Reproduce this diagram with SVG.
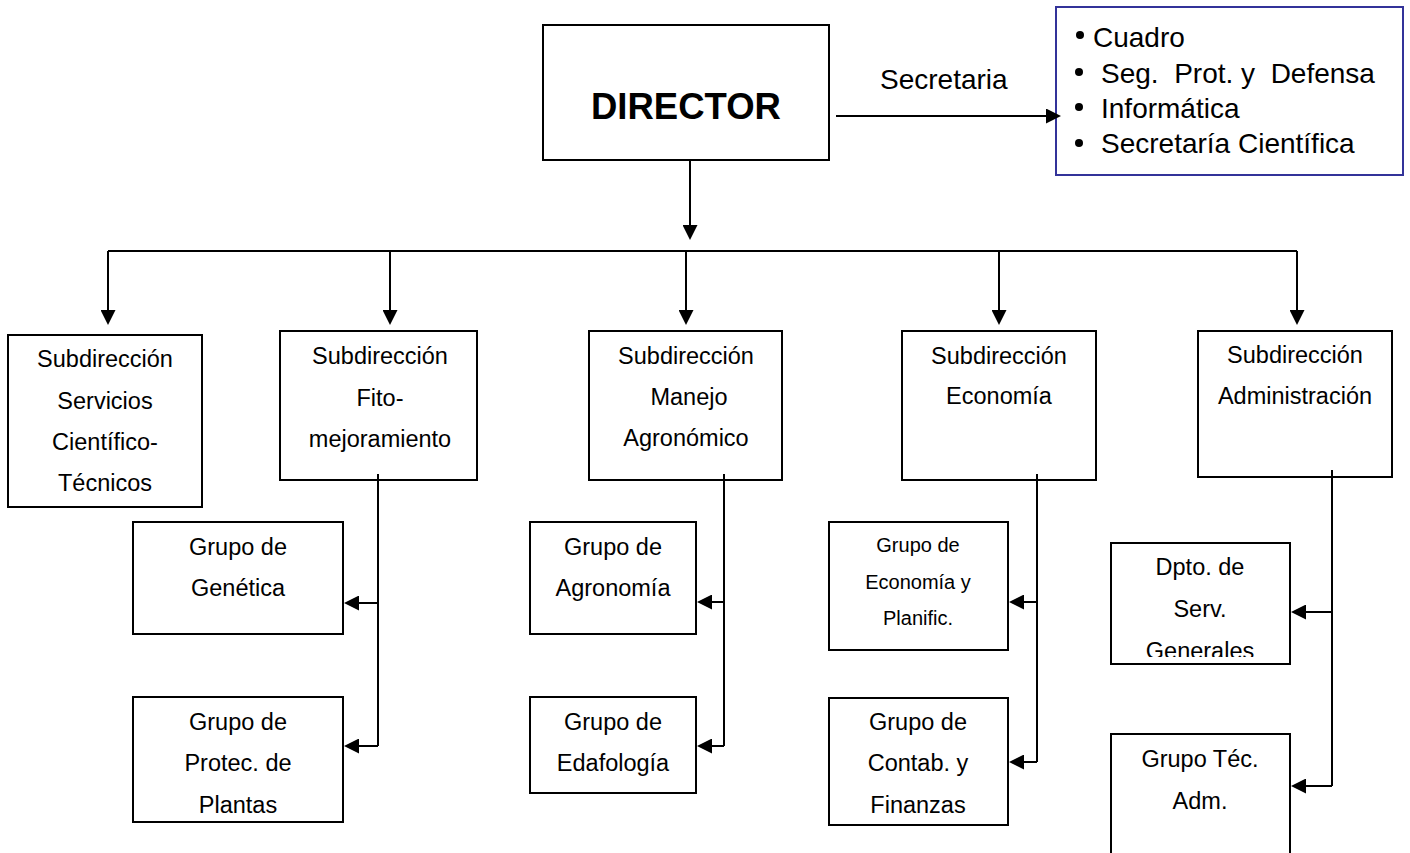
<svg xmlns="http://www.w3.org/2000/svg" width="1410" height="853" viewBox="0 0 1410 853">
<style>
.box{fill:#fff;stroke:#000;stroke-width:2}
.blue{fill:#fff;stroke:#333399;stroke-width:2}
.t{font-family:"Liberation Sans",Arial,sans-serif;font-size:23.5px;fill:#000;text-anchor:middle}
.s{font-size:20px}
.b{font-family:"Liberation Sans",Arial,sans-serif;font-size:28px;fill:#000;white-space:pre}
.dir{font-family:"Liberation Sans",Arial,sans-serif;font-size:36.5px;font-weight:bold;fill:#000;text-anchor:middle}
.c{fill:none;stroke:#000;stroke-width:2}
.a{marker-end:url(#ah)}
</style>
<defs>
<marker id="ah" markerWidth="15" markerHeight="15" refX="7" refY="7.5" orient="auto" markerUnits="userSpaceOnUse">
<path d="M0,0 L15,7.5 L0,15 Z" fill="#000"/>
</marker>
<clipPath id="clipDpto"><rect x="1111" y="543" width="179" height="114"/></clipPath>
</defs>
<rect width="1410" height="853" fill="#fff"/>

<g id="director">
<rect class="box" x="543" y="25" width="286" height="135"/>
<text class="dir" x="686" y="119">DIRECTOR</text>
</g>

<g id="secretaria-label">
<text class="b" x="880" y="89" font-size="25.5">Secretaria</text>
</g>

<g id="staff">
<rect class="blue" x="1056" y="7" width="347" height="168"/>
<circle cx="1080" cy="35" r="4"/>
<circle cx="1079" cy="72" r="4"/>
<circle cx="1079" cy="107" r="4"/>
<circle cx="1079" cy="143" r="4"/>
<text class="b" x="1093" y="47">Cuadro</text>
<text class="b" x="1101" y="83">Seg.  Prot. y  Defensa</text>
<text class="b" x="1101" y="118">Informática</text>
<text class="b" x="1101" y="153">Secretaría Científica</text>
</g>

<g id="sub-servicios">
<rect class="box" x="8" y="335" width="194" height="172"/>
<text class="t" x="105" y="367">Subdirección</text>
<text class="t" x="105" y="409">Servicios</text>
<text class="t" x="105" y="450">Científico-</text>
<text class="t" x="105" y="491">Técnicos</text>
</g>

<g id="sub-fito">
<rect class="box" x="280" y="331" width="197" height="149"/>
<text class="t" x="380" y="364">Subdirección</text>
<text class="t" x="380" y="406">Fito-</text>
<text class="t" x="380" y="447">mejoramiento</text>
</g>

<g id="sub-manejo">
<rect class="box" x="589" y="331" width="193" height="149"/>
<text class="t" x="686" y="364">Subdirección</text>
<text class="t" x="689" y="405">Manejo</text>
<text class="t" x="686" y="446">Agronómico</text>
</g>

<g id="sub-economia">
<rect class="box" x="902" y="331" width="194" height="149"/>
<text class="t" x="999" y="364">Subdirección</text>
<text class="t" x="999" y="404">Economía</text>
</g>

<g id="sub-admin">
<rect class="box" x="1198" y="331" width="194" height="146"/>
<text class="t" x="1295" y="363">Subdirección</text>
<text class="t" x="1295" y="404">Administración</text>
</g>

<g id="grupo-genetica">
<rect class="box" x="133" y="522" width="210" height="112"/>
<text class="t" x="238" y="555">Grupo de</text>
<text class="t" x="238" y="596">Genética</text>
</g>

<g id="grupo-protec">
<rect class="box" x="133" y="697" width="210" height="125"/>
<text class="t" x="238" y="730">Grupo de</text>
<text class="t" x="238" y="771">Protec. de</text>
<text class="t" x="238" y="813">Plantas</text>
</g>

<g id="grupo-agronomia">
<rect class="box" x="530" y="522" width="166" height="112"/>
<text class="t" x="613" y="555">Grupo de</text>
<text class="t" x="613" y="596">Agronomía</text>
</g>

<g id="grupo-edafologia">
<rect class="box" x="530" y="697" width="166" height="96"/>
<text class="t" x="613" y="730">Grupo de</text>
<text class="t" x="613" y="771">Edafología</text>
</g>

<g id="grupo-economia">
<rect class="box" x="829" y="522" width="179" height="128"/>
<text class="t s" x="918" y="552">Grupo de</text>
<text class="t s" x="918" y="589">Economía y</text>
<text class="t s" x="918" y="625">Planific.</text>
</g>

<g id="grupo-contab">
<rect class="box" x="829" y="698" width="179" height="127"/>
<text class="t" x="918" y="730">Grupo de</text>
<text class="t" x="918" y="771">Contab. y</text>
<text class="t" x="918" y="813">Finanzas</text>
</g>

<g id="dpto-serv">
<rect class="box" x="1111" y="543" width="179" height="121"/>
<g clip-path="url(#clipDpto)">
<text class="t" x="1200" y="575">Dpto. de</text>
<text class="t" x="1200" y="617">Serv.</text>
<text class="t" x="1200" y="659">Generales</text>
</g>
</g>

<g id="grupo-tec">
<rect class="box" x="1111" y="734" width="179" height="130"/>
<text class="t" x="1200" y="767">Grupo Téc.</text>
<text class="t" x="1200" y="809">Adm.</text>
</g>

<g id="connectors">
<path class="c a" d="M690,160 V232"/>
<path class="c a" d="M836,116 H1053"/>
<path class="c" d="M108,251 H1297"/>
<path class="c a" d="M108,251 V317"/>
<path class="c a" d="M390,251 V317"/>
<path class="c a" d="M686,251 V317"/>
<path class="c a" d="M999,251 V317"/>
<path class="c a" d="M1297,251 V317"/>
<path class="c" d="M378,474 V746"/>
<path class="c a" d="M378,603 H352"/>
<path class="c a" d="M378,746 H352"/>
<path class="c" d="M724,474 V746"/>
<path class="c a" d="M724,602 H705"/>
<path class="c a" d="M724,746 H705"/>
<path class="c" d="M1037,474 V762"/>
<path class="c a" d="M1037,602 H1017"/>
<path class="c a" d="M1037,762 H1017"/>
<path class="c" d="M1332,470 V786"/>
<path class="c a" d="M1332,612 H1299"/>
<path class="c a" d="M1332,786 H1299"/>
</g>
</svg>
